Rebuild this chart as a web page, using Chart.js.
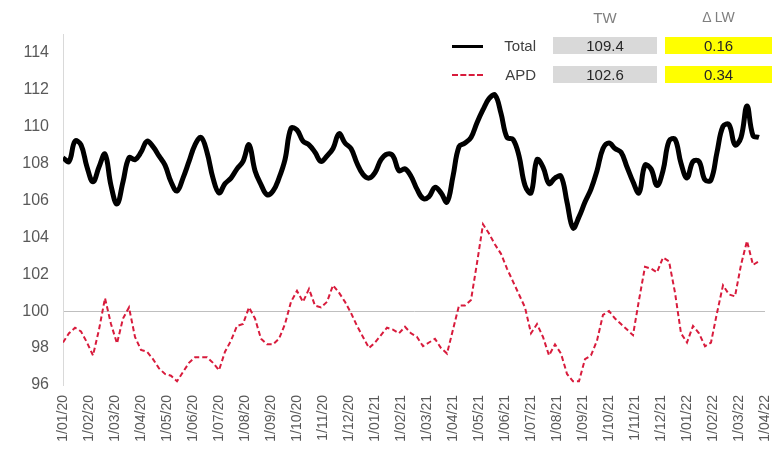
<!DOCTYPE html>
<html lang="en">
<head>
    <meta charset="UTF-8">
    <title>Total vs APD</title>
    <style>
        body {
            margin: 0;
            background: #fff;
            font-family: "Liberation Sans", Arial, sans-serif;
        }

        .wrap {
            position: relative;
            width: 773px;
            height: 455px;
        }

        .lg {
            position: absolute;
            font-size: 15px;
            line-height: 17px;
            white-space: nowrap;
        }

        .hdr {
            color: #7f7f7f;
            text-align: center;
        }

        .name {
            color: #404040;
            text-align: right;
            width: 50px;
        }

        .box {
            color: #262626;
            text-align: center;
            height: 17px;
        }
    </style>
</head>
<body>
    <div class="wrap">
        <canvas id="chart" width="773" height="455"></canvas>
        <div id="legend"></div>
    </div>

    <script src="https://cdn.jsdelivr.net/npm/chart.js"></script>
    <script>
        // month tick labels (x axis runs in months from 1/01/20)
        const monthLabels = [
            '1/01/20', '1/02/20', '1/03/20', '1/04/20', '1/05/20', '1/06/20', '1/07/20',
            '1/08/20', '1/09/20', '1/10/20', '1/11/20', '1/12/20', '1/01/21', '1/02/21',
            '1/03/21', '1/04/21', '1/05/21', '1/06/21', '1/07/21', '1/08/21', '1/09/21',
            '1/10/21', '1/11/21', '1/12/21', '1/01/22', '1/02/22', '1/03/22', '1/04/22'
        ];

        // weekly readings
        const totalValues = [
            108.3, 108.1, 109.2, 109.0, 107.8, 107.0, 107.8, 108.5, 106.8, 105.8,
            107.0, 108.3, 108.2, 108.6, 109.2, 108.9, 108.4, 107.9, 107.0, 106.5,
            107.2, 108.1, 109.0, 109.4, 108.6, 107.2, 106.4, 106.9, 107.2, 107.7,
            108.1, 109.0, 107.6, 106.85, 106.3, 106.5, 107.2, 108.2, 109.9, 109.8,
            109.2, 109.0, 108.6, 108.1, 108.4, 108.8, 109.6, 109.1, 108.8, 108.0,
            107.4, 107.2, 107.5, 108.2, 108.5, 108.4, 107.6, 107.7, 107.3, 106.6,
            106.1, 106.2, 106.7, 106.4, 105.9, 107.3, 108.9, 109.1, 109.4, 110.2,
            110.9, 111.5, 111.7, 110.7, 109.4, 109.3, 108.4, 106.8, 106.4, 108.2,
            107.8, 106.9, 107.2, 107.3, 105.9, 104.5, 105.1, 105.9, 106.6, 107.6,
            108.8, 109.1, 108.8, 108.6, 107.8, 107.0, 106.4, 107.9, 107.7, 106.8,
            107.6, 109.2, 109.3, 108.0, 107.2, 108.1, 108.1, 107.1, 107.1, 108.6,
            110.0, 110.1, 109.0, 109.4, 111.1, 109.5, 109.4
        ];

        const apdValues = [
            98.3, 98.8, 99.1, 98.9, 98.3, 97.6, 99.0, 100.7, 99.3, 98.25,
            99.6, 100.2, 98.6, 97.9, 97.8, 97.4, 96.9, 96.6, 96.5, 96.2,
            96.7, 97.2, 97.5, 97.5, 97.5, 97.2, 96.8, 97.8, 98.4, 99.2,
            99.3, 100.2, 99.6, 98.5, 98.2, 98.2, 98.5, 99.3, 100.5, 101.1,
            100.5, 101.2, 100.3, 100.2, 100.5, 101.4, 101.0, 100.5, 99.9, 99.2,
            98.6, 98.0, 98.3, 98.7, 99.1, 99.0, 98.8, 99.15, 98.8, 98.6,
            98.1, 98.3, 98.5, 98.0, 97.7, 99.0, 100.3, 100.3, 100.6, 102.6,
            104.7, 104.2, 103.6, 103.1, 102.3, 101.6, 100.9, 100.2, 98.8, 99.3,
            98.6, 97.6, 98.2, 97.7, 96.6, 96.2, 96.2, 97.4, 97.6, 98.4,
            99.8, 100.0, 99.6, 99.3, 99.0, 98.7, 100.6, 102.4, 102.3, 102.1,
            102.9, 102.7, 101.0, 98.8, 98.3, 99.2, 98.8, 98.1, 98.3, 99.9,
            101.4, 100.9, 100.8, 102.5, 103.8, 102.5, 102.7
        ];

        // summary table: this week / change on last week
        const seriesNames = ['Total', 'APD'];
        const twValues = ['109.4', '102.6'];
        const dlwValues = ['0.16', '0.34'];

        const weekStep = 12 / 52; // one week, in months

        const toPoints = arr => arr.map((v, i) => ({ x: i * weekStep, y: v }));

        // build the little table in the top right
        const legend = document.getElementById('legend');
        function addDiv(cls, left, top, width, text, style) {
            const d = document.createElement('div');
            d.className = 'lg ' + cls;
            d.style.left = left + 'px';
            d.style.top = top + 'px';
            if (width) d.style.width = width + 'px';
            d.textContent = text;
            if (style) Object.assign(d.style, style);
            legend.appendChild(d);
            return d;
        }

        addDiv('hdr', 553, 9, 104, 'TW');
        addDiv('hdr', 665, 9, 107, '\u0394 LW', { fontSize: '14px' });

        const rowTops = [37, 66];
        const sampleStyles = [
            { borderTop: '3px solid #000' },
            { borderTop: '2px dashed #d81b3c' }
        ];
        seriesNames.forEach((name, i) => {
            const top = rowTops[i];
            addDiv('', 452, top + 8, 31, '', Object.assign({ height: '0px' }, sampleStyles[i]));
            addDiv('name', 484, top, 52, name);
            addDiv('box', 553, top, 104, twValues[i], { background: '#d9d9d9' });
            addDiv('box', 665, top, 107, dlwValues[i], { background: '#ffff00' });
        });

        const ctx = document.getElementById('chart').getContext('2d');
        new Chart(ctx, {
            type: 'line',
            data: {
                datasets: [
                    {
                        label: 'Total',
                        data: toPoints(totalValues),
                        borderColor: '#000000',
                        borderWidth: 5,
                        tension: 0.4,
                        pointRadius: 0,
                        fill: false
                    },
                    {
                        label: 'APD',
                        data: toPoints(apdValues),
                        borderColor: '#d81b3c',
                        borderWidth: 2,
                        borderDash: [5, 3],
                        tension: 0,
                        pointRadius: 0,
                        fill: false
                    }
                ]
            },
            options: {
                responsive: false,
                animation: false,
                layout: { padding: { top: 34, right: 8, left: 0, bottom: 0 } },
                plugins: {
                    legend: { display: false },
                    tooltip: { enabled: false }
                },
                scales: {
                    x: {
                        type: 'linear',
                        min: 0,
                        max: monthLabels.length - 1,
                        grid: { display: false },
                        border: { display: false },
                        ticks: {
                            stepSize: 1,
                            autoSkip: false,
                            minRotation: 90,
                            maxRotation: 90,
                            padding: 2,
                            color: '#595959',
                            font: { family: '"Liberation Sans", Arial, sans-serif', size: 14 },
                            callback: v => monthLabels[v]
                        },
                        afterFit: s => {
                            s.height = 70;
                            s.paddingLeft = 0;
                            s.paddingRight = 0;
                        }
                    },
                    y: {
                        min: 96,
                        max: 115,
                        afterBuildTicks: s => {
                            s.ticks = s.ticks.filter(t => t.value <= 114);
                        },
                        grid: {
                            drawTicks: false,
                            color: c => (c.tick && c.tick.value === 100) ? '#bfbfbf' : 'rgba(0,0,0,0)'
                        },
                        border: { color: '#d9d9d9' },
                        ticks: {
                            stepSize: 2,
                            padding: 14,
                            color: '#595959',
                            font: { family: '"Liberation Sans", Arial, sans-serif', size: 16 }
                        },
                        afterFit: s => { s.width = 63; }
                    }
                }
            }
        });
    </script>
</body>
</html>
